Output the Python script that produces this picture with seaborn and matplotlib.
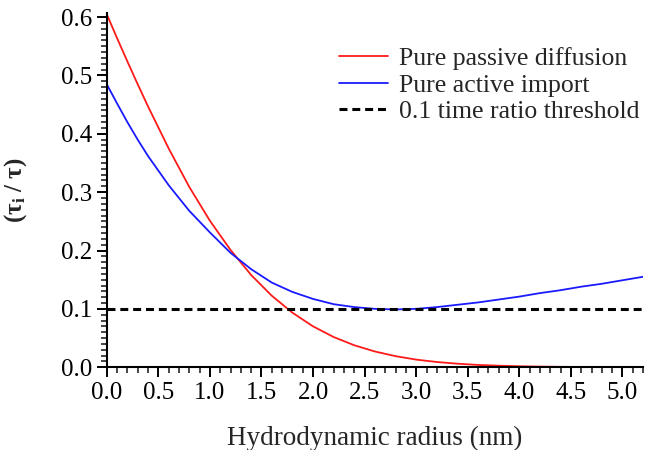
import numpy as np
import pandas as pd
import matplotlib
matplotlib.use("Agg")
import matplotlib.pyplot as plt
from matplotlib.ticker import MultipleLocator, FormatStrFormatter
import seaborn as sns

# values
radius = [0.0, 0.1, 0.2, 0.3, 0.4, 0.6, 0.8, 1.0, 1.2, 1.4, 1.6, 1.8, 2.0, 2.2,
          2.4, 2.6, 2.8, 3.0, 3.2, 3.4, 3.6, 3.8, 4.0, 4.2, 4.4, 4.6, 4.8, 5.0, 5.2]
passive = [0.605, 0.564, 0.524, 0.485, 0.447, 0.375, 0.309, 0.251, 0.201, 0.158,
           0.1225, 0.0934, 0.070, 0.0517, 0.0376, 0.0269, 0.0189, 0.013, 0.0089,
           0.006, 0.0039, 0.0026, 0.0016, 0.001, 0.0006, 0.0004, 0.0002, 0.0001,
           0.0001]
active = [0.485, 0.452, 0.42, 0.39, 0.362, 0.312, 0.268, 0.231, 0.196, 0.168,
          0.145, 0.129, 0.117, 0.108, 0.103, 0.100, 0.099, 0.100, 0.103, 0.107,
          0.111, 0.116, 0.121, 0.127, 0.132, 0.138, 0.143, 0.149, 0.155]
threshold = 0.1

df = pd.DataFrame({"radius": radius, "passive": passive, "active": active})

sns.set_style("ticks")
plt.rcParams["font.family"] = ["Liberation Serif", "DejaVu Serif"]
plt.rcParams["mathtext.fontset"] = "custom"
plt.rcParams["mathtext.rm"] = "Liberation Serif"
plt.rcParams["mathtext.it"] = "Liberation Serif:italic"
plt.rcParams["mathtext.bf"] = "Liberation Serif:bold"

fig = plt.figure(figsize=(6.47, 4.5), dpi=100)
ax = fig.add_axes([0.165, 0.184, 0.829, 0.787])

sns.lineplot(data=df, x="radius", y="passive", ax=ax, color="#ff1a1a", lw=1.3,
             label="Pure passive diffusion")
sns.lineplot(data=df, x="radius", y="active", ax=ax, color="#1a1aff", lw=1.3,
             label="Pure active import")
ax.axhline(threshold, color="black", lw=2.2, ls=(0, (2.6, 1.6)),
           label="0.1 time ratio threshold")

ax.set_xlim(0, 5.2)
ax.set_ylim(0, 0.607)
ax.xaxis.set_major_locator(MultipleLocator(0.5))
ax.xaxis.set_minor_locator(MultipleLocator(0.1))
ax.yaxis.set_major_locator(MultipleLocator(0.1))
ax.yaxis.set_minor_locator(MultipleLocator(0.01))
ax.xaxis.set_major_formatter(FormatStrFormatter("%.1f"))
ax.yaxis.set_major_formatter(FormatStrFormatter("%.1f"))
ax.tick_params(which="major", length=7, width=1.4, labelsize=18, direction="out", colors="black")
ax.tick_params(which="minor", length=4, width=1.2, direction="out")

sns.despine(ax=ax)
for s in ["left", "bottom"]:
    ax.spines[s].set_linewidth(1.5)
    ax.spines[s].set_color("black")

ax.set_xlabel("Hydrodynamic radius (nm)", fontsize=19.5, labelpad=16)
ax.set_ylabel(r"$\mathbf{(\tau_i\ /\ \tau)}$", fontsize=18, labelpad=23)

ax.legend(loc="upper right", frameon=False, fontsize=18.5, handlelength=1.92,
          handletextpad=0.4, labelspacing=0.14, borderaxespad=0.3,
          bbox_to_anchor=(1.026, 0.955))

fig.savefig("out.png", dpi=100)
